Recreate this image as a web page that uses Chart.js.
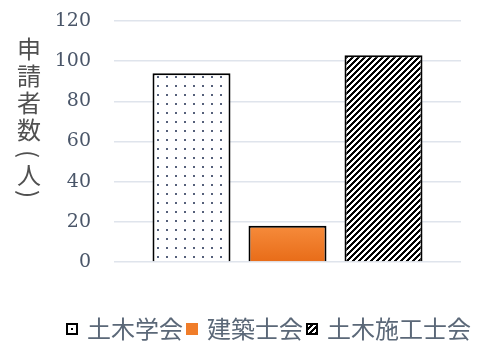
<!DOCTYPE html>
<html>
<head>
<meta charset="utf-8">
<script src="https://cdn.jsdelivr.net/npm/chart.js@4.4.1/dist/chart.umd.min.js"></script>
<style>
    html, body { margin: 0; padding: 0; background: #ffffff; }
    #wrap { width: 477px; height: 343px; }
</style>
</head>
<body>
<div id="wrap"><canvas id="chart" width="477" height="343"></canvas></div>
<script>
// Data
const categories = [''];
const seriesNames = ['土木学会', '建築士会', '土木施工士会'];
const seriesValues = [94, 18, 103];
const yTicks = [0, 20, 40, 60, 80, 100, 120];
const axisTitleChars = ['申', '請', '者', '数', '(', '人', ')'];

const TICK_COLOR = '#4a5669';
const LEGEND_COLOR = '#5b6878';
const TITLE_COLOR = '#505050';
const CJK_FONT = '"Noto Sans CJK JP", "Noto Sans", sans-serif';
const NUM_FONT = '"DejaVu Serif", "Liberation Serif", serif';

// Fill patterns
function makeDotPattern(ctx) {
    const c = document.createElement('canvas');
    c.width = 9; c.height = 9;
    const g = c.getContext('2d');
    g.fillStyle = '#ffffff';
    g.fillRect(0, 0, 9, 9);
    g.fillStyle = '#55607a';
    g.fillRect(4, 4, 2, 2);
    return ctx.createPattern(c, 'repeat');
}

// crisp "/" stripes, 6px period
function makeStripePattern(ctx) {
    const s = 6;
    const c = document.createElement('canvas');
    c.width = s; c.height = s;
    const g = c.getContext('2d');
    g.fillStyle = '#ffffff';
    g.fillRect(0, 0, s, s);
    g.fillStyle = '#000000';
    for (let x = 0; x < s; x++) {
        for (let y = 0; y < s; y++) {
            if ((x + y) % s < 3) g.fillRect(x, y, 1, 1);
        }
    }
    return ctx.createPattern(c, 'repeat');
}

// Legend icons
function legendIcon(kind) {
    const c = document.createElement('canvas');
    c.width = 12; c.height = 12;
    const g = c.getContext('2d');
    if (kind === 0) {
        g.fillStyle = '#ffffff';
        g.fillRect(0, 0, 12, 12);
        g.fillStyle = '#000000';
        g.fillRect(5, 5, 2, 2);
        g.strokeStyle = '#000000';
        g.lineWidth = 2;
        g.strokeRect(1, 1, 10, 10);
    } else if (kind === 1) {
        g.fillStyle = '#f07d2a';
        g.fillRect(0, 0, 12, 12);
    } else {
        g.fillStyle = makeStripePattern(g);
        g.fillRect(0, 0, 12, 12);
        g.strokeStyle = '#000000';
        g.lineWidth = 2;
        g.strokeRect(1, 1, 10, 10);
    }
    return c;
}

const canvas = document.getElementById('chart');
const ctx = canvas.getContext('2d');
const dotFill = makeDotPattern(ctx);
const stripeFill = makeStripePattern(ctx);
const legendIcons = [legendIcon(0), legendIcon(1), legendIcon(2)];

function orangeFill(context) {
    const chart = context.chart;
    const yScale = chart.scales.y;
    if (!chart.chartArea || !yScale) return '#f07d2a';
    const top = yScale.getPixelForValue(seriesValues[1]);
    const bottom = yScale.getPixelForValue(0);
    const grad = chart.ctx.createLinearGradient(0, top, 0, bottom);
    grad.addColorStop(0, '#f68b3b');
    grad.addColorStop(1, '#e86c18');
    return grad;
}

// Vertical axis title, one character per row
const verticalTitle = {
    id: 'verticalTitle',
    afterDraw(chart) {
        const c = chart.ctx;
        const x = 29;
        const rows = [49, 76, 103, 130, 154, 175, 194];
        c.save();
        c.fillStyle = TITLE_COLOR;
        c.font = '24px ' + CJK_FONT;
        c.textAlign = 'center';
        c.textBaseline = 'middle';
        axisTitleChars.forEach((ch, i) => {
            if (ch === '(' || ch === ')') {
                c.save();
                c.translate(x, rows[i]);
                c.rotate(Math.PI / 2);
                c.fillText(ch, 0, 0);
                c.restore();
            } else {
                c.fillText(ch, x, rows[i]);
            }
        });
        c.restore();
    }
};

const fills = [dotFill, orangeFill, stripeFill];

new Chart(ctx, {
    type: 'bar',
    data: {
        labels: categories,
        datasets: seriesNames.map((name, i) => ({
            label: name,
            data: [seriesValues[i]],
            backgroundColor: fills[i],
            borderColor: '#000000',
            borderWidth: 2,
            categoryPercentage: 0.83,
            barPercentage: 0.8125
        }))
    },
    options: {
        responsive: false,
        animation: false,
        layout: {
            padding: { top: 21, right: 0, left: 0, bottom: -8 }
        },
        plugins: {
            tooltip: { enabled: false },
            legend: {
                position: 'bottom',
                align: 'end',
                labels: {
                    usePointStyle: true,
                    pointStyleWidth: 6,
                    boxWidth: 12,
                    boxHeight: 12,
                    padding: 6,
                    color: LEGEND_COLOR,
                    font: { family: CJK_FONT, size: 24 },
                    generateLabels: function() {
                        return seriesNames.map((name, i) => ({
                            text: name,
                            pointStyle: legendIcons[i],
                            fillStyle: 'transparent',
                            strokeStyle: 'transparent',
                            lineWidth: 0,
                            fontColor: LEGEND_COLOR,
                            hidden: false,
                            datasetIndex: i
                        }));
                    }
                }
            }
        },
        scales: {
            x: {
                grid: { display: false },
                border: { display: false },
                ticks: { display: false },
                afterFit: function(scale) { scale.height = 49; }
            },
            y: {
                min: 0,
                max: 120,
                afterBuildTicks: function(scale) {
                    scale.ticks = yTicks.map(v => ({ value: v }));
                },
                afterFit: function(scale) {
                    scale.width = 114;
                    // tick padding is horizontal only here
                    scale.paddingTop = 0;
                    scale.paddingBottom = 0;
                },
                grid: { color: '#dfe4ec', lineWidth: 1.5, drawTicks: false },
                border: { display: false },
                ticks: {
                    padding: 23,
                    color: TICK_COLOR,
                    font: { family: NUM_FONT, size: 19 }
                }
            },
            // blank strip keeping the plot off the right edge
            yRight: {
                position: 'right',
                grid: { display: false },
                border: { display: false },
                ticks: { display: false },
                afterFit: function(scale) { scale.width = 16; }
            }
        }
    },
    plugins: [verticalTitle]
});
</script>
</body>
</html>
